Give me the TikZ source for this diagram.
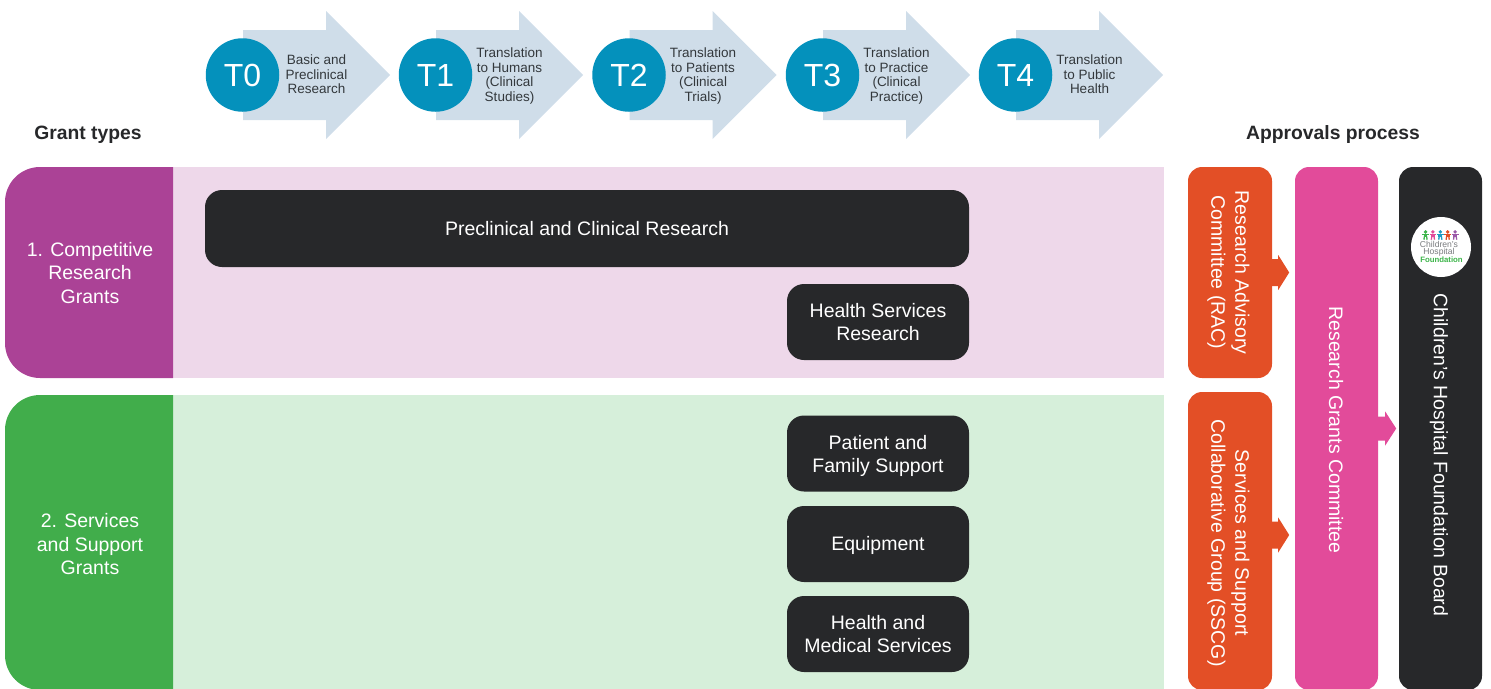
\documentclass[tikz,border=0pt]{standalone}
\usepackage{fontspec}
\setmainfont{Liberation Sans}
\definecolor{arrowblue}{HTML}{CFDDE9}
\definecolor{tblue}{HTML}{0491BC}
\definecolor{inktext}{HTML}{33383C}
\definecolor{boxblack}{HTML}{27282A}
\definecolor{purpleband}{HTML}{AB4296}
\definecolor{purplelight}{HTML}{EED8EA}
\definecolor{greenband}{HTML}{41AD4B}
\definecolor{greenlight}{HTML}{D6EFDA}
\definecolor{orangebox}{HTML}{E34F26}
\definecolor{pinkbox}{HTML}{E24B9A}
\definecolor{logogreen}{HTML}{3DB54A}
\definecolor{logogrey}{HTML}{7A7C7F}
\definecolor{logoblue}{HTML}{1E9CC4}
\definecolor{logopurple}{HTML}{9B59A8}
\tikzset{
  x=1pt,y=-1pt,
  stagecircle/.style={circle,fill=tblue,text=white,inner sep=0pt,minimum size=73.5pt,font=\fontsize{32}{36}\selectfont},
  stagetext/.style={text=inktext,align=center,inner sep=0pt,font=\fontsize{13.5}{14.5}\selectfont},
  head/.style={text=boxblack,inner sep=0pt,font=\fontsize{19.3}{23}\selectfont\bfseries},
  bandlabel/.style={text=white,align=center,inner sep=0pt,font=\fontsize{19.5}{23.5}\selectfont},
  darkbox/.style={fill=boxblack,text=white,align=center,rounded corners=17pt,inner sep=0pt,font=\fontsize{19.5}{23.5}\selectfont},
  sidebox/.style={rounded corners=14pt,inner sep=0pt},
  sidetext/.style={text=white,align=center,rotate=-90,inner sep=0pt,font=\fontsize{19.5}{24}\selectfont},
}
\begin{document}
\begin{tikzpicture}
\useasboundingbox (0,0) rectangle (1491,688);
\clip (0,0) rectangle (1491,688);
% stage arrows
\foreach \n/\px/\ty/\txt in {
  0/243/74.5/{Basic and\\Preclinical\\Research},
  1/436/76/{Translation\\to Humans\\(Clinical\\Studies)},
  2/629.5/76/{Translation\\to Patients\\(Clinical\\Trials)},
  3/823/76/{Translation\\to Practice\\(Clinical\\Practice)},
  4/1016/74.5/{Translation\\to Public\\Health}}{
  \fill[arrowblue] (\px,30) -- ({\px+83},30) -- ({\px+83},11) -- ({\px+147},75)
     -- ({\px+83},139) -- ({\px+83},120) -- (\px,120) -- cycle;
  \node[stagecircle] (t\n) at ({\px-0.5},75) {T\n};
  \node[stagetext] (tl\n) at ({\px+73.5},\ty) {\txt};
}
% headings
\node[head] (granthead) at (88,135) {Grant types};
\node[head] (apphead) at (1333,135) {Approvals process};
% bands
\fill[purplelight] (173,167) rectangle (1164,378);
\fill[purpleband] (173,167) [rounded corners=35pt] -- (5,167) -- (5,378) [sharp corners] -- (173,378) -- cycle;
\node[bandlabel] (band1) at (90,273) {1. Competitive\\Research\\Grants};
\fill[greenlight] (173,395) rectangle (1164,700);
\fill[greenband] (173,395) [rounded corners=35pt] -- (5,395) -- (5,690) [sharp corners] -- (173,690) -- cycle;
\node[bandlabel] (band2) at (90,544.5) {2. Services\\and Support\\Grants};
% dark boxes
\node[darkbox,minimum width=764pt,minimum height=77pt] (pcr) at (587,228.5) {Preclinical and Clinical Research};
\node[darkbox,minimum width=182pt,minimum height=76pt] (hsr) at (878,322) {Health Services\\Research};
\node[darkbox,minimum width=182pt,minimum height=76pt] (pfs) at (878,453.5) {\rule{0pt}{19pt}Patient and\\Family Support};
\node[darkbox,minimum width=182pt,minimum height=76pt] (equ) at (878,544) {\rule{0pt}{18pt}Equipment};
\node[darkbox,minimum width=182pt,minimum height=76pt] (hms) at (878,634) {Health and\\Medical Services};
% side boxes and block arrows
\node[sidebox,fill=orangebox,minimum width=84pt,minimum height=211pt] (rac) at (1230,272.5) {};
\node[sidebox,fill=orangebox,minimum width=84pt,minimum height=298pt] (sscg) at (1230,541) {};
\node[sidebox,fill=pinkbox,minimum width=83pt,minimum height=523pt] (rgc) at (1336.5,428.5) {};
\node[sidebox,fill=boxblack,minimum width=83pt,minimum height=523pt] (board) at (1440.5,428.5) {};
\begin{scope}[shift={(rac.east)}]
  \fill[orangebox] (-1,-13.5) -- (6,-13.5) -- (6,-17.5) -- (17,0) -- (6,17.5) -- (6,13.5) -- (-1,13.5) -- cycle;
\end{scope}
\begin{scope}[shift={(sscg.east)},yshift=6pt]
  \fill[orangebox] (-1,-13.5) -- (6,-13.5) -- (6,-17.5) -- (17,0) -- (6,17.5) -- (6,13.5) -- (-1,13.5) -- cycle;
\end{scope}
\begin{scope}[shift={(rgc.east)}]
  \fill[pinkbox] (-1,-12) -- (7,-12) -- (7,-17) -- (18,0) -- (7,17) -- (7,12) -- (-1,12) -- cycle;
\end{scope}
\node[sidetext] (ractext) at (1228.5,272.5) {Research Advisory\\Committee (RAC)};
\node[sidetext] (sscgtext) at (1228.5,543) {Services and Support\\Collaborative Group (SSCG)};
\node[sidetext] (rgctext) at (1336,430) {Research Grants Committee};
\node[sidetext] (boardtext) at (1439,455) {Children’s Hospital Foundation Board};
% logo
\node[circle,fill=white,inner sep=0pt,minimum size=60pt] (logo) at (1441,247) {};
\foreach \i/\c in {0/logogreen,1/pinkbox,2/logoblue,3/orangebox,4/logopurple}{
  \begin{scope}[shift={({1425.5+7.4*\i},235.5)},\c]
    \fill (0,-3.6) circle (1.9);
    \draw[line width=1.3pt] (-3.4,-1.2) -- (3.4,-1.2);
    \fill (-1.9,-2) rectangle (1.9,1.3);
    \draw[line width=1.3pt] (-1.1,1) -- (-1.6,4.2) (1.1,1) -- (1.6,4.2);
  \end{scope}
}
\node[text=logogrey,inner sep=0pt,align=center,font=\fontsize{8.6}{7.4}\selectfont] (logotxt) at (1439,249) {Children’s\\Hospital};
\node[text=logogreen,inner sep=0pt,font=\fontsize{7.8}{9}\selectfont\bfseries] (logofnd) at (1441.5,260) {Foundation};
\end{tikzpicture}
\end{document}
